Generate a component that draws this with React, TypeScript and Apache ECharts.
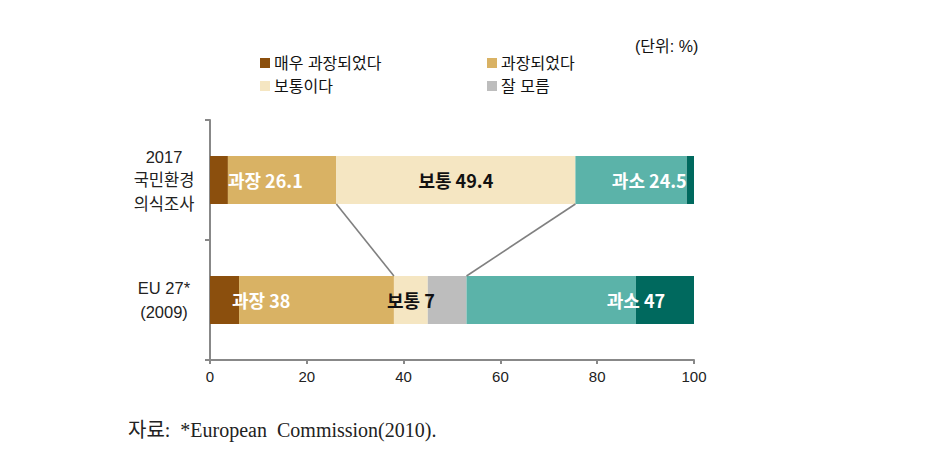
import React, { useEffect, useRef } from "react";
import * as echarts from "echarts";

const categories = ["2017\n국민환경\n의식조사", "EU 27*\n(2009)"];
const seriesNames = ["매우 과장되었다", "과장되었다", "보통이다", "잘 모름", "과소되었다", "매우 과소되었다"];
const veryOver = [3.7, 6];
const over = [22.4, 32];
const neutral = [49.4, 7];
const dontKnow = [0, 8];
const under = [23.0, 35];
const veryUnder = [1.5, 12];
const overTotals = [26.1, 38];
const underTotals = [24.5, 47];
const xTicks = [0, 20, 40, 60, 80, 100];
const colors = ["#8B4F0D", "#D9B264", "#F5E6C2", "#BDBDBD", "#5BB3A9", "#00695E"];

const FONT = "'Noto Sans CJK KR', 'Noto Sans', sans-serif";
const FONT2 = "'Liberation Sans', 'Noto Sans CJK KR', sans-serif";

export default function App() {
  const ref = useRef<HTMLDivElement>(null);
  useEffect(() => {
    if (!ref.current) return;
    const chart = echarts.init(ref.current, null, { renderer: "svg" });

    const labelBase = {
      show: true,
      fontFamily: FONT,
      fontSize: 18,
      fontWeight: "bold" as const,
      verticalAlign: "middle" as const,
    };

    const topOverEnd = veryOver[0] + over[0];
    const botOverEnd = veryOver[1] + over[1];
    const topNeutralEnd = topOverEnd + neutral[0];
    const botDkEnd = botOverEnd + neutral[1] + dontKnow[1];
    const connectors = [
      [topOverEnd, botOverEnd, 0],
      [topNeutralEnd, botDkEnd, 0],
    ];

    const overLabelOffsets = [0, -7];

    const legendText = { fontFamily: FONT2, fontSize: 16, color: "#111", padding: [0, 0, 0, -1] };

    chart.setOption({
      animation: false,
      grid: { left: 210, right: 241, top: 120, bottom: 91 },
      legend: [
        {
          data: ["매우 과장되었다", "보통이다"],
          orient: "vertical",
          left: 255,
          top: 50,
          itemWidth: 10,
          itemHeight: 10,
          itemGap: 7,
          icon: "rect",
          selectedMode: false,
          textStyle: legendText,
        },
        {
          data: ["과장되었다", "잘 모름"],
          orient: "vertical",
          left: 482,
          top: 50,
          itemWidth: 10,
          itemHeight: 10,
          itemGap: 7,
          icon: "rect",
          selectedMode: false,
          textStyle: legendText,
        },
      ],
      graphic: [
        {
          type: "text",
          left: 635,
          top: 38,
          style: { text: "(단위: %)", fontFamily: FONT2, fontSize: 16, fill: "#111" },
        },
        {
          type: "text",
          left: 128,
          top: 420,
          style: {
            text: "자료:  *European  Commission(2010).",
            fontFamily: "'Liberation Serif', 'Noto Sans CJK KR', serif",
            fontSize: 20,
            fill: "#222",
          },
        },
      ],
      xAxis: {
        type: "value",
        min: 0,
        max: 100,
        interval: 20,
        splitLine: { show: false },
        axisLine: { show: true, lineStyle: { color: "#888", width: 2 } },
        axisTick: { show: true, length: 4, lineStyle: { color: "#888", width: 2 } },
        axisLabel: {
          fontFamily: FONT2,
          fontSize: 15,
          color: "#222",
          margin: 9,
          formatter: (v: number) => (xTicks.includes(v) ? String(v) : ""),
        },
      },
      yAxis: {
        type: "category",
        data: categories,
        inverse: true,
        axisLine: { show: true, lineStyle: { color: "#888", width: 2 } },
        axisTick: { show: true, length: 5, lineStyle: { color: "#888", width: 2 } },
        axisLabel: {
          fontFamily: FONT2,
          fontSize: 16.5,
          color: "#222",
          align: "center",
          margin: 46,
          lineHeight: 23.5,
        },
      },
      series: [
        {
          name: seriesNames[0],
          type: "bar",
          stack: "t",
          barWidth: "40%",
          itemStyle: { color: colors[0] },
          data: veryOver,
        },
        {
          name: seriesNames[1],
          type: "bar",
          stack: "t",
          itemStyle: { color: colors[1] },
          data: over.map((v, i) => ({
            value: v,
            label: {
              ...labelBase,
              color: "#fff",
              position: [overLabelOffsets[i], "50%"],
              align: "left",
              formatter: () => `과장 ${overTotals[i]}`,
            },
          })),
        },
        {
          name: seriesNames[2],
          type: "bar",
          stack: "t",
          itemStyle: { color: colors[2] },
          data: neutral.map((v) => ({
            value: v,
            label: {
              ...labelBase,
              color: "#111",
              position: "inside",
              formatter: () => `보통 ${v}`,
            },
          })),
        },
        {
          name: seriesNames[3],
          type: "bar",
          stack: "t",
          itemStyle: { color: colors[3] },
          data: dontKnow,
        },
        {
          name: seriesNames[4],
          type: "bar",
          stack: "t",
          itemStyle: { color: colors[4] },
          data: under.map((v, i) => ({
            value: v,
            label: {
              ...labelBase,
              color: "#fff",
              position: ["100%", "50%"],
              align: i === 0 ? "right" : "center",
              formatter: () => `과소 ${underTotals[i]}`,
            },
          })),
        },
        {
          name: seriesNames[5],
          type: "bar",
          stack: "t",
          itemStyle: { color: colors[5] },
          data: veryUnder,
        },
        {
          type: "custom",
          encode: { x: [0, 1], y: 2 },
          silent: true,
          z: 5,
          data: connectors,
          renderItem: (params: any, api: any) => {
            const p1 = api.coord([api.value(0), 0]);
            const p2 = api.coord([api.value(1), 1]);
            const band = api.size([0, 1])[1];
            const half = band * 0.2;
            return {
              type: "line",
              shape: { x1: p1[0], y1: p1[1] + half, x2: p2[0], y2: p2[1] - half },
              style: { stroke: "#808080", lineWidth: 1.6 },
            };
          },
        },
      ],
    });
    return () => chart.dispose();
  }, []);
  return <div ref={ref} style={{ width: 935, height: 451, margin: -8 }} />;
}
